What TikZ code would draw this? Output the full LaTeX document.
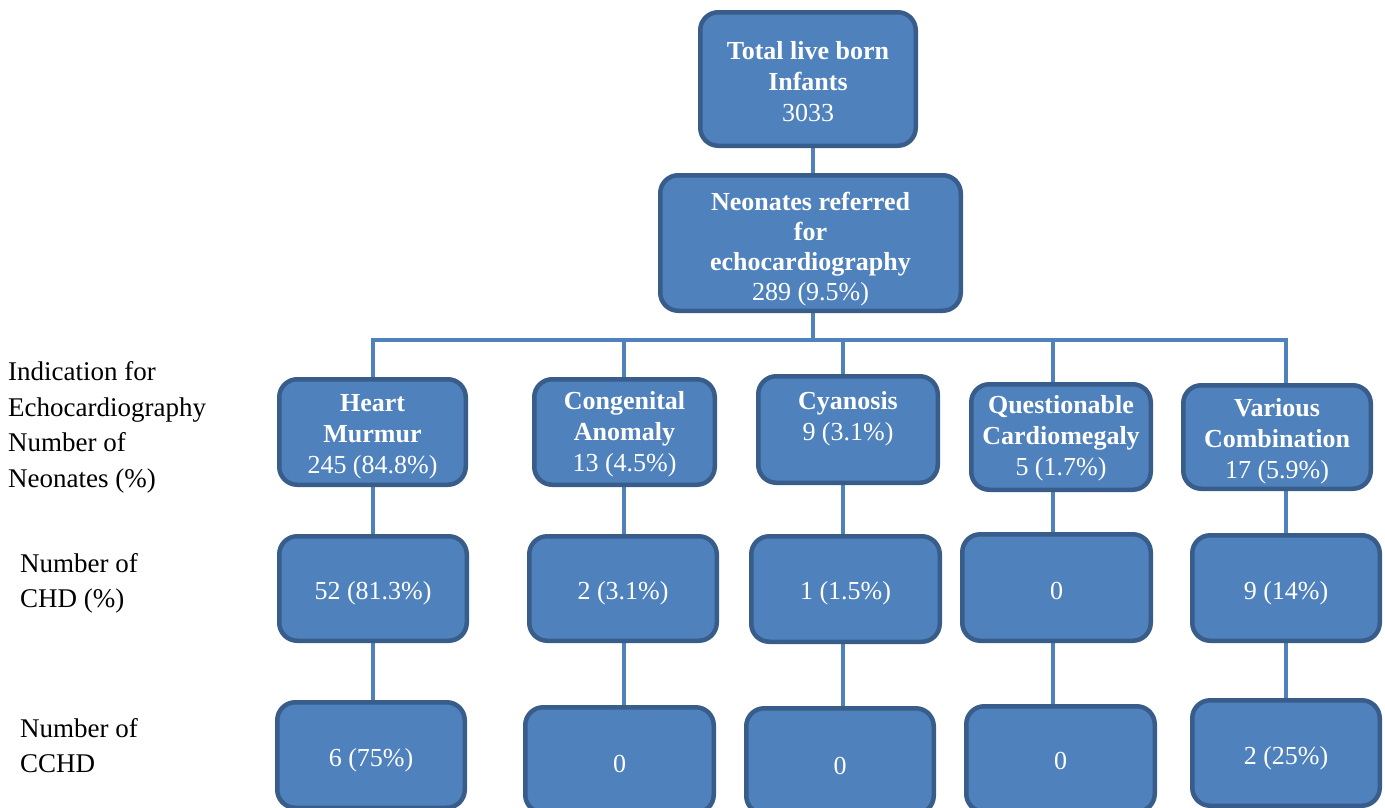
\documentclass[tikz,border=0pt]{standalone}
\usepackage{fontspec}
\setmainfont{Liberation Serif}
\definecolor{boxfill}{RGB}{79,129,189}
\definecolor{boxline}{RGB}{56,93,138}
\definecolor{connc}{RGB}{79,129,189}
\pgfdeclarelayer{bg}
\pgfsetlayers{bg,main}
\newcommand\dgboxfont{\fontsize{26}{31}\selectfont}
\newcommand\dglblfont{\fontsize{27}{35.7}\selectfont}
\tikzset{
  box/.style={draw=boxline, fill=boxfill, line width=4.5pt, rounded corners=18pt, inner sep=0pt},
  boxtext/.style={text=white, align=center, font=\dgboxfont, inner sep=0pt},
  conn/.style={draw=connc, line width=4pt},
  sidelbl/.style={anchor=west, align=left, inner sep=0pt, font=\dglblfont, text=black}
}
% name, cx, cy, width, height, text shift down, text
\newcommand\dgbox[7]{%
  \node[box, minimum width=#4pt, minimum height=#5pt] (#1) at (#2,#3) {};
  \node[boxtext] (#1t) at ([yshift=-#6pt]#1.center) {#7};}
\begin{document}
\begin{tikzpicture}[x=1pt, y=-1pt]
\useasboundingbox (0,0) rectangle (1385,807);
\clip (0,0) rectangle (1385,807);

% top levels
\dgbox{top}{808}{79}{215.5}{133.5}{2.5}{\textbf{Total live born}\\\textbf{Infants}\\3033}
\node[box, minimum width=300.5pt, minimum height=135.5pt] (neo) at (810.5,243) {};
\node[boxtext, font=\fontsize{26}{30}\selectfont] (neot) at ([yshift=-6.5pt]neo.center)
  {\textbf{Neonates referred}\\\textbf{for}\\\textbf{echocardiography}\\289 (9.5\%)};

% row 1
\dgbox{hm1}{372.5}{432}{186.5}{105.5}{4.5}{\textbf{Heart}\\\textbf{Murmur}\\245 (84.8\%)}
\dgbox{cg1}{624.5}{432}{180.5}{105.5}{2.5}{\textbf{Congenital}\\\textbf{Anomaly}\\13 (4.5\%)}
\dgbox{cy1}{848}{429.5}{179.5}{106.5}{1.5}{\textbf{Cyanosis}\\9 (3.1\%)\\\mbox{}}
\dgbox{qc1}{1061}{437}{179.5}{105.5}{1}{\textbf{Questionable}\\\textbf{Cardiomegaly}\\5 (1.7\%)}
\dgbox{vc1}{1277}{437}{187.5}{103.5}{4}{\textbf{Various}\\\textbf{Combination}\\17 (5.9\%)}

% row 2
\dgbox{hm2}{373}{588.5}{187.5}{104.5}{5}{52 (81.3\%)}
\dgbox{cg2}{623}{588.5}{187.5}{104.5}{5}{2 (3.1\%)}
\dgbox{cy2}{845.5}{589}{188.5}{105.5}{4}{1 (1.5\%)}
\dgbox{qc2}{1056.5}{587.5}{188.5}{106.5}{3}{0}
\dgbox{vc2}{1286}{588}{187.5}{105.5}{5}{9 (14\%)}

% row 3
\dgbox{hm3}{371}{755}{187.5}{105.5}{5}{6 (75\%)}
\dgbox{cg3}{619.5}{760}{188.5}{105.5}{4}{0}
\dgbox{cy3}{840}{761}{187.5}{105.5}{5}{0}
\dgbox{qc3}{1060.5}{759}{188.5}{105.5}{2}{0}
\dgbox{vc3}{1286}{753}{187.5}{105.5}{5}{2 (25\%)}

% side labels
\node[sidelbl] (lbl1) at (8,427.5) {Indication for\\Echocardiography\\Number of\\Neonates (\%)};
\node[sidelbl] (lbl2) at (20,583.5) {Number of\\CHD (\%)};
\node[sidelbl] (lbl3) at (20,745.5) {Number of\\CCHD};

% connectors
\coordinate (bc) at (813,340);
\coordinate (b1) at (373,340);
\coordinate (b2) at (624,340);
\coordinate (b3) at (843,340);
\coordinate (b4) at (1053,340);
\coordinate (b5) at (1286,340);
\begin{pgfonlayer}{bg}
\draw[conn] (bc |- top.south) -- (bc |- neo.north);
\draw[conn] (bc |- neo.south) -- (bc);
\draw[conn] (b1 |- hm1.north) -- (b1) -- (b5) -- (b5 |- vc1.north);
\draw[conn] (b2) -- (b2 |- cg1.north);
\draw[conn] (b3) -- (b3 |- cy1.north);
\draw[conn] (b4) -- (b4 |- qc1.north);
\draw[conn] (b1 |- hm1.south) -- (b1 |- hm2.north);
\draw[conn] (b2 |- cg1.south) -- (b2 |- cg2.north);
\draw[conn] (b3 |- cy1.south) -- (b3 |- cy2.north);
\draw[conn] (b4 |- qc1.south) -- (b4 |- qc2.north);
\draw[conn] (b5 |- vc1.south) -- (b5 |- vc2.north);
\draw[conn] (b1 |- hm2.south) -- (b1 |- hm3.north);
\draw[conn] (b2 |- cg2.south) -- (b2 |- cg3.north);
\draw[conn] (b3 |- cy2.south) -- (b3 |- cy3.north);
\draw[conn] (b4 |- qc2.south) -- (b4 |- qc3.north);
\draw[conn] (b5 |- vc2.south) -- (b5 |- vc3.north);
\end{pgfonlayer}
\end{tikzpicture}
\end{document}
